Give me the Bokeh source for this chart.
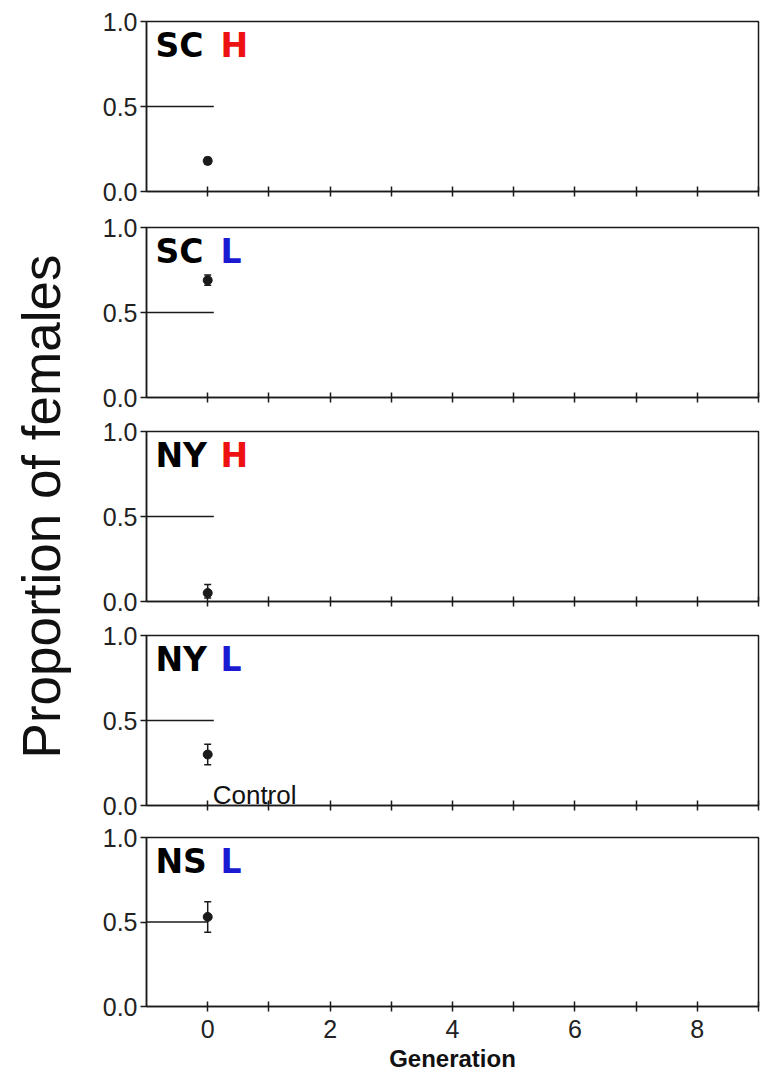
import math
from bokeh.plotting import figure
from bokeh.layouts import row, column
from bokeh.models import (ColumnDataSource, Whisker, TeeHead, Label, FixedTicker,
                          Range1d, NumeralTickFormatter)
from bokeh.embed import file_html
from bokeh.resources import INLINE

# ---------------- data ----------------
sites = ["SC", "SC", "NY", "NY", "NS"]
treatments = ["H", "L", "H", "L", "L"]
treatment_colors = {"H": "#ee1111", "L": "#1a1ad2"}
generation = [0, 0, 0, 0, 0]
prop_female = [0.18, 0.69, 0.05, 0.30, 0.53]
err_low = [0.16, 0.66, 0.02, 0.24, 0.44]
err_high = [0.20, 0.72, 0.10, 0.36, 0.62]
control_level = [0.5, 0.5, 0.5, 0.5, 0.5]
control_x0 = [-1, -1, -1, -1, -1]
control_x1 = [0.1, 0.1, 0.1, 0.1, 0.0]
control_note = "Control"
control_note_panel = 3
x_ticks = [0, 1, 2, 3, 4, 5, 6, 7, 8, 9]
x_hidden_labels = {1: "", 3: "", 5: "", 7: "", 9: ""}
x_no_labels = {t: "" for t in x_ticks}
y_ticks = [0.0, 0.5, 1.0]
x_title = "Generation"
y_title = "Proportion of females"

# ---------------- layout ----------------
FONT = "Liberation Sans"
INK = "#1a1a1a"
FRAME_H = 170
tops = [21, 20, 18, 18, 16]
bottoms = [16, 16, 16, 16, 67]
heights = [t + FRAME_H + b for t, b in zip(tops, bottoms)]
TOTAL_H = sum(heights)
LAB_W = 80
PANEL_W = 762 - LAB_W

panels = []
for i in range(5):
    last = (i == 4)
    p = figure(width=PANEL_W, height=heights[i], x_range=Range1d(-1, 9), y_range=Range1d(0, 1),
               toolbar_location=None, output_backend="svg",
               min_border_left=66, min_border_right=4,
               min_border_top=tops[i], min_border_bottom=bottoms[i])
    p.grid.visible = False
    p.background_fill_color = "white"
    p.border_fill_color = "white"
    p.outline_line_color = INK
    p.outline_line_width = 1.5

    # x axis
    xa = p.xaxis[0]
    xa.ticker = FixedTicker(ticks=x_ticks)
    xa.minor_tick_line_color = None
    xa.major_tick_in = 5
    xa.major_tick_out = 5
    xa.major_tick_line_width = 1.5
    xa.major_tick_line_color = INK
    xa.axis_line_color = INK
    xa.axis_line_width = 1.5
    if last:
        xa.major_label_overrides = x_hidden_labels
        xa.major_label_text_font = FONT
        xa.major_label_text_font_size = "25px"
        xa.major_label_text_color = "#222222"
        xa.major_label_standoff = 8
        xa.axis_label = x_title
        xa.axis_label_text_font = FONT
        xa.axis_label_text_font_style = "bold"
        xa.axis_label_text_font_size = "24px"
        xa.axis_label_text_color = "#111111"
        xa.axis_label_standoff = 4
    else:
        xa.major_label_overrides = x_no_labels
        xa.major_label_text_font_size = "2px"
        xa.major_label_standoff = 0

    # y axis
    ya = p.yaxis[0]
    ya.ticker = FixedTicker(ticks=y_ticks)
    ya.formatter = NumeralTickFormatter(format="0.0")
    ya.minor_tick_line_color = None
    ya.major_tick_in = 0
    ya.major_tick_out = 6
    ya.major_tick_line_width = 1.5
    ya.major_tick_line_color = INK
    ya.axis_line_color = INK
    ya.axis_line_width = 1.5
    ya.major_label_text_font = FONT
    ya.major_label_text_font_size = "25px"
    ya.major_label_text_color = "#222222"
    ya.major_label_standoff = 3

    # control reference line
    p.segment(x0=[control_x0[i]], x1=[control_x1[i]], y0=[control_level[i]], y1=[control_level[i]],
              line_color=INK, line_width=1.5)

    # data point with error bar
    src = ColumnDataSource(dict(x=[generation[i]], y=[prop_female[i]],
                                lo=[err_low[i]], hi=[err_high[i]]))
    p.add_layout(Whisker(source=src, base="x", lower="lo", upper="hi", dimension="height",
                         line_color=INK, line_width=1.5,
                         upper_head=TeeHead(size=7, line_color=INK, line_width=1.5),
                         lower_head=TeeHead(size=7, line_color=INK, line_width=1.5)))
    p.scatter(x="x", y="y", source=src, marker="circle", size=9,
              fill_color=INK, line_color=INK)

    # panel label
    p.add_layout(Label(x=-1, y=1, x_offset=9, y_offset=-24, text=sites[i],
                       text_font="DejaVu Sans", text_font_style="bold", text_font_size="33px",
                       text_color="#000000", text_baseline="middle", text_align="left"))
    p.add_layout(Label(x=-1, y=1, x_offset=74, y_offset=-24, text=treatments[i],
                       text_font="DejaVu Sans", text_font_style="bold", text_font_size="33px",
                       text_color=treatment_colors[treatments[i]],
                       text_baseline="middle", text_align="left"))

    if i == control_note_panel:
        p.add_layout(Label(x=0, y=0, x_offset=5, y_offset=11, text=control_note,
                           text_font=FONT, text_font_size="26px", text_color="#111111",
                           text_baseline="middle", text_align="left"))
    panels.append(p)

# y title strip
lab = figure(width=LAB_W, height=TOTAL_H, x_range=Range1d(0, LAB_W), y_range=Range1d(0, TOTAL_H),
             toolbar_location=None, output_backend="svg", min_border=0,
             x_axis_location=None, y_axis_location=None)
lab.grid.visible = False
lab.outline_line_color = None
lab.add_layout(Label(x=41, y=TOTAL_H - 506, text=y_title, angle=math.pi / 2,
                     text_align="center", text_baseline="middle",
                     text_font=FONT, text_font_size="53px", text_color="#111111"))

layout = row(lab, column(*panels, spacing=0), spacing=0)
open("out.html", "w").write(file_html(layout, INLINE))
